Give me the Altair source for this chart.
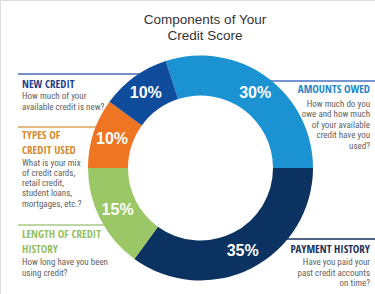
import altair as alt
import pandas as pd
import math

categories = ["Amounts Owed", "Payment History", "Length of Credit History", "Types of Credit Used", "New Credit"]
values = [30, 35, 15, 10, 10]
labels = ["30%", "35%", "15%", "10%", "10%"]
seg_colors = ["#1b93d3", "#0b3260", "#9cc766", "#ee7623", "#0f4c9b"]

title_lines = ["Components of Your", "Credit Score"]
new_head = ["NEW CREDIT"]
new_body = ["How much of your", "available credit is new?"]
types_head = ["TYPES OF", "CREDIT USED"]
types_body = ["What is your mix", "of credit cards,", "retail credit,", "student loans,", "mortgages, etc.?"]
length_head = ["LENGTH OF CREDIT", "HISTORY"]
length_body = ["How long have you been", "using credit?"]
owed_head = ["AMOUNTS OWED"]
owed_body = ["How much do you", "owe and how much", "of your available", "credit have you", "used?"]
pay_head = ["PAYMENT HISTORY"]
pay_body = ["Have you paid your", "past credit accounts", "on time?"]

df = pd.DataFrame({"category": categories, "value": values, "label": labels,
                   "ord": list(range(len(categories)))})
one = pd.DataFrame({"a": [0]})

CX, CY = 200.5, 168
start = 2 * math.pi - math.radians(18)
theta_scale = alt.Scale(range=[start, start + 2 * math.pi])
color_scale = alt.Scale(domain=categories, range=seg_colors)

HEAD_FONT = "Open Sans Condensed"
BODY_FONT = "Roboto Condensed"


def rule(x1, x2, y, color):
    return alt.Chart(one).mark_rule(color=color, strokeWidth=1.5).encode(
        x=alt.value(x1), x2=alt.value(x2), y=alt.value(y))


def block(lines, x, y, align, color, size, weight, lh, font):
    return alt.Chart(one).mark_text(
        text=lines, align=align, baseline="alphabetic", fontSize=size,
        fontWeight=weight, font=font, color=color, lineHeight=lh
    ).encode(x=alt.value(x), y=alt.value(y))


rules = [
    rule(18, 160, 74, "#4a68b5"),
    rule(260, 375, 81, "#4a72c2"),
    rule(18, 120, 127, "#d9a35e"),
    rule(18, 130, 225, "#a9c985"),
    rule(270, 375, 239, "#1b2f5c"),
]

arcs = alt.Chart(df).mark_arc(outerRadius=112.5, innerRadius=72.5).encode(
    theta=alt.Theta("value:Q", stack=True, scale=theta_scale),
    color=alt.Color("category:N", scale=color_scale, legend=None),
    order=alt.Order("ord:Q"),
    x=alt.value(CX), y=alt.value(CY),
)

pct = alt.Chart(df).mark_text(radius=93, fontSize=16, fontWeight="bold",
                              font="Liberation Sans, Arial, sans-serif",
                              color="white", align="center", baseline="middle").encode(
    theta=alt.Theta("value:Q", stack=True, scale=theta_scale),
    order=alt.Order("ord:Q"),
    text="label:N",
    x=alt.value(CX), y=alt.value(CY),
)

HS = 11
BS = 9
BC = "#5f5f5f"
HL = 15
texts = [
    block(title_lines, 205, 24, "center", "#333333", 13.5, "normal", 16, "Liberation Sans, Arial, sans-serif"),
    block(new_head, 22, 88, "left", "#1f3f8a", HS, "bold", HL, HEAD_FONT),
    block(new_body, 22, 99.3, "left", BC, BS, "normal", 10.7, BODY_FONT),
    block(types_head, 22, 139.2, "left", "#d4892e", HS, "bold", HL, HEAD_FONT),
    block(types_body, 22, 165.5, "left", BC, BS, "normal", 10.3, BODY_FONT),
    block(length_head, 22, 237.5, "left", "#93bf62", HS, "bold", HL, HEAD_FONT),
    block(length_body, 22, 265, "left", BC, BS, "normal", 10.5, BODY_FONT),
    block(owed_head, 370, 93.3, "right", "#1f86c9", HS, "bold", HL, HEAD_FONT),
    block(owed_body, 370, 106.5, "right", BC, BS, "normal", 10.5, BODY_FONT),
    block(pay_head, 370, 252.7, "right", "#1b2f5c", HS, "bold", HL, HEAD_FONT),
    block(pay_body, 370, 265, "right", BC, BS, "normal", 10.5, BODY_FONT),
]

chart = alt.layer(*rules, arcs, pct, *texts).properties(
    width=375, height=294, autosize=alt.AutoSizeParams(type="none"), padding=0
).configure_view(stroke=None).configure(background="white")

chart.save("out.html", embed_options={"renderer": "svg", "actions": False})
